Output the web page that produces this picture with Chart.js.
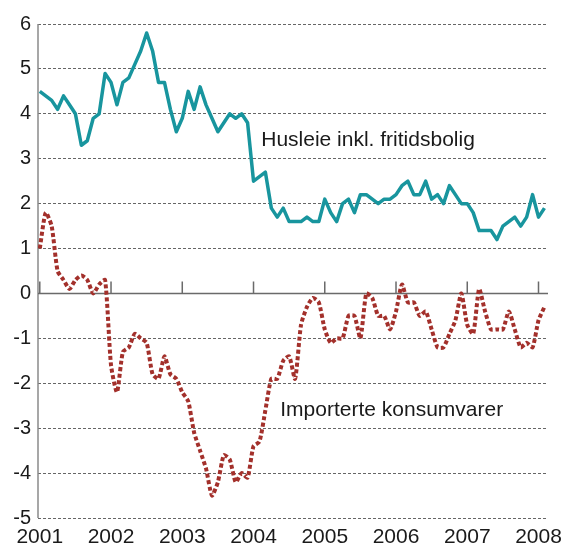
<!DOCTYPE html>
<html><head><meta charset="utf-8">
<script src="https://cdn.jsdelivr.net/npm/chart.js@4/dist/chart.umd.min.js"></script>
<style>html,body{margin:0;padding:0;background:#fff}#wrap{width:563px;height:547px}</style>
</head><body><div id="wrap"><canvas id="c"></canvas></div>
<script>
// Year tick labels (one tick every 12 months, month index 0 = Jan 2001)
const yearLabels = ['2001','2002','2003','2004','2005','2006','2007','2008'];
const yTickValues = [-5,-4,-3,-2,-1,0,1,2,3,4,5,6];
const seriesNames = ['Husleie inkl. fritidsbolig','Importerte konsumvarer'];
// Monthly values, Jan 2001 - Feb 2008
const husleie = [4.5,4.4,4.3,4.1,4.4,4.2,4.0,3.3,3.4,3.9,4.0,4.9,
  4.7,4.2,4.7,4.8,5.1,5.4,5.8,5.4,4.7,4.7,4.1,3.6,
  3.9,4.5,4.1,4.6,4.2,3.9,3.6,3.8,4.0,3.9,4.0,3.8,
  2.5,2.6,2.7,1.9,1.7,1.9,1.6,1.6,1.6,1.7,1.6,1.6,
  2.1,1.8,1.6,2.0,2.1,1.8,2.2,2.2,2.1,2.0,2.1,2.1,
  2.2,2.4,2.5,2.2,2.2,2.5,2.1,2.2,2.0,2.4,2.2,2.0,
  2.0,1.8,1.4,1.4,1.4,1.2,1.5,1.6,1.7,1.5,1.7,2.2,
  1.7,1.9];
const importerte = [1.0,1.8,1.5,0.5,0.3,0.1,0.3,0.4,0.3,0.0,0.2,0.3,
  -1.6,-2.2,-1.3,-1.2,-0.9,-1.0,-1.1,-1.8,-1.9,-1.4,-1.8,-1.9,
  -2.2,-2.4,-3.1,-3.5,-3.9,-4.5,-4.2,-3.6,-3.7,-4.2,-4.0,-4.1,
  -3.4,-3.3,-2.6,-1.9,-1.9,-1.5,-1.4,-1.9,-0.7,-0.3,-0.1,-0.2,
  -0.8,-1.1,-1.0,-1.0,-0.5,-0.5,-1.0,0.0,-0.1,-0.5,-0.5,-0.8,
  -0.4,0.2,-0.2,-0.2,-0.5,-0.4,-0.8,-1.2,-1.2,-0.9,-0.6,0.0,
  -0.7,-0.9,0.1,-0.4,-0.8,-0.8,-0.8,-0.4,-0.8,-1.2,-1.1,-1.2,
  -0.6,-0.3];
// Label anchors in data units (month index, value)
const labelAnchors = [[37.3,3.28],[40.5,-2.72]];

const toPts = arr => arr.map((v,i)=>({x:i,y:v}));
const FONT = "'Liberation Sans', Arial, sans-serif";

const decor = {
  id:'decor',
  beforeDatasetsDraw(chart){
    const {ctx, chartArea:a, scales:{x,y}} = chart;
    ctx.save();
    ctx.strokeStyle = '#8a8a8a'; ctx.lineWidth = 1.5;
    ctx.beginPath(); ctx.moveTo(a.left, a.top); ctx.lineTo(a.left, a.bottom); ctx.stroke();
    const y0 = y.getPixelForValue(0);
    ctx.strokeStyle = '#6a6a6a'; ctx.lineWidth = 1.5;
    ctx.beginPath(); ctx.moveTo(a.left, y0); ctx.lineTo(a.right, y0);
    yearLabels.forEach((_,i)=>{ const px = x.getPixelForValue(i*12); ctx.moveTo(px, y0); ctx.lineTo(px, y0-12); });
    ctx.stroke();
    ctx.restore();
  },
  afterDatasetsDraw(chart){
    const {ctx, scales:{x,y}} = chart;
    ctx.save();
    ctx.fillStyle = '#1a1a1a';
    ctx.font = '21px ' + FONT;
    ctx.textBaseline = 'alphabetic';
    ctx.textAlign = 'left';
    seriesNames.forEach((n,i)=>{
      ctx.fillText(n, x.getPixelForValue(labelAnchors[i][0]), y.getPixelForValue(labelAnchors[i][1]));
    });
    ctx.restore();
  }
};

new Chart(document.getElementById('c'), {
  type:'line',
  data:{datasets:[
    {label:seriesNames[0], data:toPts(husleie), borderColor:'#18959e', borderWidth:3.5, pointRadius:0, tension:0, borderJoinStyle:'round'},
    {label:seriesNames[1], data:toPts(importerte), borderColor:'#a3302b', borderWidth:4, borderDash:[4,2.5], pointRadius:0, tension:0.2, borderCapStyle:'butt'}
  ]},
  options:{
    responsive:true, maintainAspectRatio:false, animation:false,
    layout:{padding:{top:24,right:15,left:0,bottom:0}},
    plugins:{legend:{display:false}, tooltip:{enabled:false}},
    scales:{
      x:{type:'linear', min:-0.3, max:85.6,
        grid:{display:false}, border:{display:false},
        afterBuildTicks:s=>{ s.ticks = yearLabels.map((_,i)=>({value:i*12})); },
        afterFit:s=>{ s.height = 29; },
        ticks:{autoSkip:false, maxRotation:0, padding:-1, color:'#1a1a1a', font:{family:FONT,size:21},
          callback:v=>yearLabels[Math.round(v/12)]}
      },
      y:{min:-5, max:6,
        afterBuildTicks:s=>{ s.ticks = yTickValues.map(v=>({value:v})); },
        afterFit:s=>{ s.width = 38; },
        grid:{drawTicks:false, color:c=> c.tick && c.tick.value===0 ? 'rgba(0,0,0,0)' : '#666666', lineWidth:1},
        border:{display:false, dash:[3,2]},
        ticks:{padding:7, color:'#1a1a1a', font:{family:FONT,size:20}}
      }
    }
  },
  plugins:[decor]
});
</script></body></html>
